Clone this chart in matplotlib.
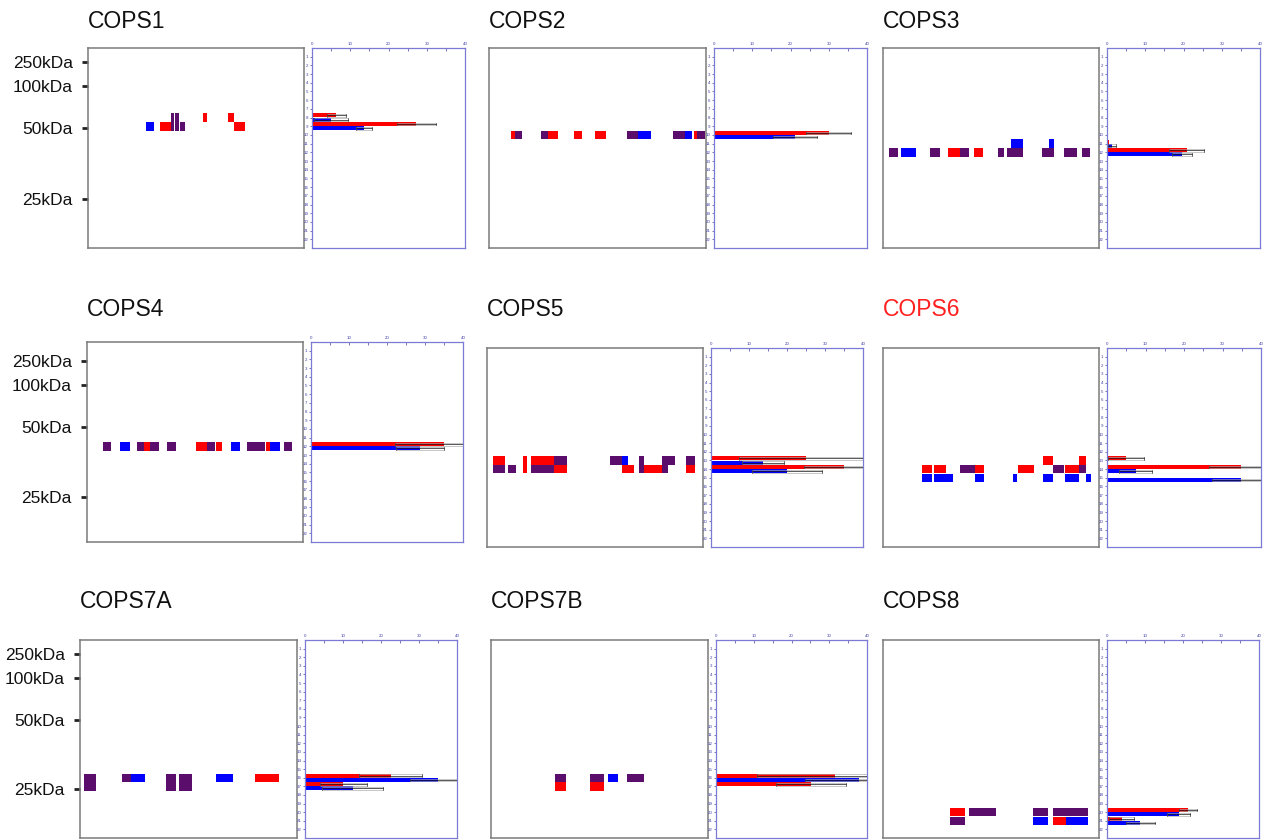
import matplotlib.pyplot as plt
from matplotlib.patches import Rectangle

plt.rcParams['font.family'] = ['Liberation Sans', 'DejaVu Sans']

W, H = 1264, 840
RED = '#ff0000'
BLUE = '#0000ff'
PURPLE = '#5a0d6b'
cell_colors = {'r': RED, 'b': BLUE, 'p': PURPLE}
AXIS_BLUE = '#7b7bd6'
LABEL_BLUE = '#4040a8'

genes = ['COPS1', 'COPS2', 'COPS3', 'COPS4', 'COPS5', 'COPS6', 'COPS7A', 'COPS7B', 'COPS8']
title_colors = ['#111111'] * 5 + ['#ff2020'] + ['#111111'] * 3

# size markers and the gel slice each one ran at (one list per gel row)
markers = ['250kDa', '100kDa', '50kDa', '25kDa']
marker_slices_row1 = [1.61, 4.37, 9.20, 17.36]
marker_slices_row2 = [2.15, 4.99, 9.82, 17.86]
marker_slices_row3 = [1.66, 4.41, 9.28, 17.29]

# gel cells: (lane start %, lane end %, slice, found in r=red / b=blue / p=both)
cops1_gel = [(26.9, 30.6, 9, 'b'), (33.2, 38.3, 9, 'r'), (38.3, 39.8, 8, 'p'),
             (38.3, 39.8, 9, 'p'), (40.3, 42.0, 8, 'p'), (40.3, 42.0, 9, 'p'),
             (42.8, 44.8, 9, 'p'), (53.2, 55.1, 8, 'r'), (64.8, 67.4, 8, 'r'),
             (67.4, 72.5, 9, 'r')]
cops2_gel = [(10.1, 12.0, 10, 'r'), (12.0, 15.4, 10, 'p'), (24.0, 27.0, 10, 'p'),
             (27.0, 32.0, 10, 'r'), (39.3, 43.0, 10, 'r'), (48.7, 53.9, 10, 'r'),
             (63.4, 68.8, 10, 'p'), (68.8, 74.5, 10, 'b'), (84.9, 90.3, 10, 'p'),
             (90.3, 93.7, 10, 'b'), (94.6, 96.0, 10, 'r'), (96.0, 99.5, 10, 'p')]
cops3_gel = [(2.9, 6.8, 12, 'p'), (8.3, 15.2, 12, 'b'), (21.8, 26.5, 12, 'p'),
             (30.3, 35.7, 12, 'r'), (35.7, 40.0, 12, 'p'), (42.3, 46.2, 12, 'r'),
             (53.4, 56.0, 12, 'p'), (57.2, 64.9, 12, 'p'), (59.1, 64.9, 11, 'b'),
             (73.8, 79.1, 12, 'p'), (76.8, 79.1, 11, 'b'), (83.7, 90.0, 12, 'p'),
             (92.2, 95.7, 12, 'p')]
cops4_gel = [(7.4, 11.0, 12, 'p'), (15.1, 19.8, 12, 'b'), (23.1, 26.2, 12, 'p'),
             (26.2, 29.3, 12, 'r'), (29.3, 33.2, 12, 'p'), (37.0, 41.4, 12, 'p'),
             (50.6, 55.6, 12, 'r'), (55.6, 59.1, 12, 'p'), (59.9, 62.5, 12, 'r'),
             (66.8, 71.0, 12, 'b'), (74.1, 82.3, 12, 'p'), (83.0, 84.9, 12, 'r'),
             (84.9, 89.2, 12, 'b'), (91.2, 95.1, 12, 'p')]
cops5_gel = [(2.8, 8.2, 13, 'r'), (16.5, 18.5, 13, 'r'), (20.5, 31.2, 13, 'r'),
             (31.2, 37.0, 13, 'p'), (56.8, 62.3, 13, 'p'), (62.3, 65.1, 13, 'b'),
             (70.2, 72.8, 13, 'p'), (81.0, 87.2, 13, 'p'), (92.1, 96.5, 13, 'p'),
             (2.8, 8.2, 14, 'p'), (9.7, 13.6, 14, 'p'), (16.5, 18.5, 14, 'r'),
             (20.5, 31.2, 14, 'p'), (31.2, 37.0, 14, 'r'), (62.3, 68.2, 14, 'r'),
             (70.2, 72.8, 14, 'p'), (72.8, 81.0, 14, 'r'), (81.0, 83.8, 14, 'p'),
             (92.1, 96.5, 14, 'r')]
cops6_gel = [(74.2, 78.5, 13, 'r'), (90.8, 93.8, 13, 'r'),
             (18.0, 22.6, 14, 'r'), (23.8, 29.2, 14, 'r'), (35.7, 42.6, 14, 'p'),
             (42.6, 46.8, 14, 'r'), (62.6, 69.8, 14, 'r'), (78.8, 83.7, 14, 'p'),
             (84.2, 90.8, 14, 'r'), (90.8, 93.8, 14, 'p'),
             (18.0, 22.6, 15, 'b'), (23.8, 32.6, 15, 'b'), (42.6, 46.8, 15, 'b'),
             (60.0, 62.2, 15, 'b'), (74.2, 78.5, 15, 'b'), (84.2, 90.8, 15, 'b'),
             (94.2, 96.5, 15, 'b')]
cops7a_gel = [(2.0, 7.2, 16, 'p'), (19.2, 23.4, 16, 'p'), (23.4, 30.0, 16, 'b'),
              (39.5, 44.3, 16, 'p'), (45.7, 51.4, 16, 'p'), (62.6, 70.5, 16, 'b'),
              (80.5, 91.5, 16, 'r'), (2.0, 7.2, 17, 'p'), (39.5, 44.3, 17, 'p'),
              (45.7, 51.4, 17, 'p')]
cops7b_gel = [(29.5, 34.5, 16, 'p'), (45.7, 52.2, 16, 'p'), (53.7, 58.3, 16, 'b'),
              (62.6, 70.6, 16, 'p'), (29.5, 34.5, 17, 'r'), (45.7, 52.2, 17, 'r')]
cops8_gel = [(30.8, 38.0, 20, 'r'), (40.0, 52.3, 20, 'p'), (69.5, 76.5, 20, 'p'),
             (78.8, 94.9, 20, 'p'), (30.8, 38.0, 21, 'p'), (69.5, 76.5, 21, 'b'),
             (78.8, 84.9, 21, 'r'), (84.9, 94.9, 21, 'b')]

# spectral counts per slice (mean, sd) for the red and blue samples
cops1_slices = [8, 9]
cops1_red = [6.4, 27.3]
cops1_red_sd = [2.6, 5.2]
cops1_blue = [4.9, 13.6]
cops1_blue_sd = [4.5, 2.1]

cops2_slices = [10]
cops2_red = [30.0]
cops2_red_sd = [5.9]
cops2_blue = [21.1]
cops2_blue_sd = [5.7]

cops3_slices = [11, 12]
cops3_red = [0.4, 20.8]
cops3_red_sd = [0.0, 4.6]
cops3_blue = [1.3, 19.5]
cops3_blue_sd = [1.0, 2.6]

cops4_slices = [12]
cops4_red = [34.9]
cops4_red_sd = [12.8]
cops4_blue = [28.6]
cops4_blue_sd = [6.3]

cops5_slices = [13, 14]
cops5_red = [25.0, 34.9]
cops5_red_sd = [17.7, 10.5]
cops5_blue = [13.7, 20.0]
cops5_blue_sd = [5.6, 9.2]

cops6_slices = [13, 14, 15]
cops6_red = [4.9, 34.8, 0.0]
cops6_red_sd = [4.7, 8.2, 0.0]
cops6_blue = [0.0, 7.5, 34.8]
cops6_blue_sd = [0.0, 4.3, 7.6]

cops7a_slices = [16, 17]
cops7a_red = [22.5, 10.1]
cops7a_red_sd = [8.3, 6.1]
cops7a_blue = [35.0, 12.5]
cops7a_blue_sd = [7.4, 8.1]

cops7b_slices = [16, 17]
cops7b_red = [31.6, 25.2]
cops7b_red_sd = [20.7, 9.3]
cops7b_blue = [37.8, 0.0]
cops7b_blue_sd = [14.1, 0.0]

cops8_slices = [20, 21]
cops8_red = [21.3, 3.9]
cops8_red_sd = [2.4, 3.3]
cops8_blue = [18.9, 8.8]
cops8_blue_sd = [3.0, 3.7]

count_ticks = list(range(0, 41, 5))
count_labels = ['0', '', '10', '', '20', '', '30', '', '40']
slice_ticks = list(range(1, 23))


def px_axes(fig, x0, x1, y0, y1):
    return fig.add_axes([x0 / W, 1 - y1 / H, (x1 - x0) / W, (y1 - y0) / H])


def draw_errors(ax, ys, vals, sds, h):
    for y, v, e in zip(ys, vals, sds):
        if e <= 0:
            continue
        ax.add_patch(Rectangle((v - e, y - h / 2), 2 * e, h, fill=False,
                               ec='#a8a8a8', lw=0.45, zorder=3))
        ax.plot([v - e, v + e], [y, y], color='#151515', lw=0.5, zorder=4)
        ax.plot([v - e, v - e], [y - h / 2, y + h / 2], color='#333333', lw=0.45, zorder=4)
        ax.plot([v + e, v + e], [y - h / 2, y + h / 2], color='#333333', lw=0.45, zorder=4)


def draw_panel(fig, name, tcolor, title_y, box, cells, slices, red, red_sd,
               blue, blue_sd, marker_slices=None):
    gx0, gx1, bx0, bx1, y0, y1 = box
    fig.text(gx0 / W, 1 - title_y / H, name, fontsize=16.5, color=tcolor,
             ha='left', va='center')

    # gel lane map
    gel = px_axes(fig, gx0, gx1, y0, y1)
    gel.set_xlim(0, 100)
    gel.set_ylim(23, 0)
    gel.set_xticks([])
    for sp in gel.spines.values():
        sp.set_color('#7a7a7a')
        sp.set_linewidth(1.1)
    for xa, xb, s, c in cells:
        gel.add_patch(Rectangle((xa, s - 0.48), xb - xa, 0.98,
                                color=cell_colors[c], lw=0))
    if marker_slices is not None:
        gel.set_yticks(marker_slices)
        gel.set_yticklabels(markers, fontsize=12.5, color='#111111')
        gel.tick_params(axis='y', length=4, width=2, color='#222222', pad=7)
    else:
        gel.set_yticks([])

    # counts per slice
    bx = px_axes(fig, bx0, bx1, y0, y1)
    ry = [s - 0.24 for s in slices]
    by = [s + 0.24 for s in slices]
    bx.barh(ry, red, height=0.46, color=RED, lw=0, zorder=2)
    bx.barh(by, blue, height=0.46, color=BLUE, lw=0, zorder=2)
    draw_errors(bx, ry, red, red_sd, 0.3)
    draw_errors(bx, by, blue, blue_sd, 0.3)
    bx.set_xlim(0, 40)
    bx.set_ylim(23, 0)
    bx.xaxis.tick_top()
    bx.set_xticks(count_ticks)
    bx.set_xticklabels(count_labels, fontsize=3.2, color=LABEL_BLUE)
    bx.set_yticks(slice_ticks)
    bx.set_yticklabels([str(t) for t in slice_ticks], fontsize=3.2, color=LABEL_BLUE)
    bx.tick_params(axis='x', direction='in', length=2, width=0.5, color=LABEL_BLUE, pad=1.5)
    bx.tick_params(axis='y', direction='out', length=1.5, width=0.5, color=LABEL_BLUE, pad=1)
    for sp in bx.spines.values():
        sp.set_color(AXIS_BLUE)
        sp.set_linewidth(0.9)


fig = plt.figure(figsize=(W / 100, H / 100), dpi=100)

boxes = [(88, 304, 312, 465, 48, 248), (489, 706, 714, 867, 48, 248),
         (883, 1099, 1107, 1260, 48, 248),
         (87, 303, 311, 463, 342, 542), (487, 703, 711, 863, 348, 547),
         (883, 1099, 1107, 1261, 348, 547),
         (80, 297, 305, 457, 640, 838), (491, 708, 716, 867, 640, 838),
         (883, 1099, 1107, 1259, 640, 838)]
title_ys = [21, 21, 21, 310, 310, 310, 601, 601, 601]
gels = [cops1_gel, cops2_gel, cops3_gel, cops4_gel, cops5_gel, cops6_gel,
        cops7a_gel, cops7b_gel, cops8_gel]
counts = [
    (cops1_slices, cops1_red, cops1_red_sd, cops1_blue, cops1_blue_sd),
    (cops2_slices, cops2_red, cops2_red_sd, cops2_blue, cops2_blue_sd),
    (cops3_slices, cops3_red, cops3_red_sd, cops3_blue, cops3_blue_sd),
    (cops4_slices, cops4_red, cops4_red_sd, cops4_blue, cops4_blue_sd),
    (cops5_slices, cops5_red, cops5_red_sd, cops5_blue, cops5_blue_sd),
    (cops6_slices, cops6_red, cops6_red_sd, cops6_blue, cops6_blue_sd),
    (cops7a_slices, cops7a_red, cops7a_red_sd, cops7a_blue, cops7a_blue_sd),
    (cops7b_slices, cops7b_red, cops7b_red_sd, cops7b_blue, cops7b_blue_sd),
    (cops8_slices, cops8_red, cops8_red_sd, cops8_blue, cops8_blue_sd),
]
marker_rows = {0: marker_slices_row1, 3: marker_slices_row2, 6: marker_slices_row3}

for i, name in enumerate(genes):
    draw_panel(fig, name, title_colors[i], title_ys[i], boxes[i], gels[i], *counts[i],
               marker_slices=marker_rows.get(i))

fig.savefig('out.png', dpi=100, facecolor='white')
